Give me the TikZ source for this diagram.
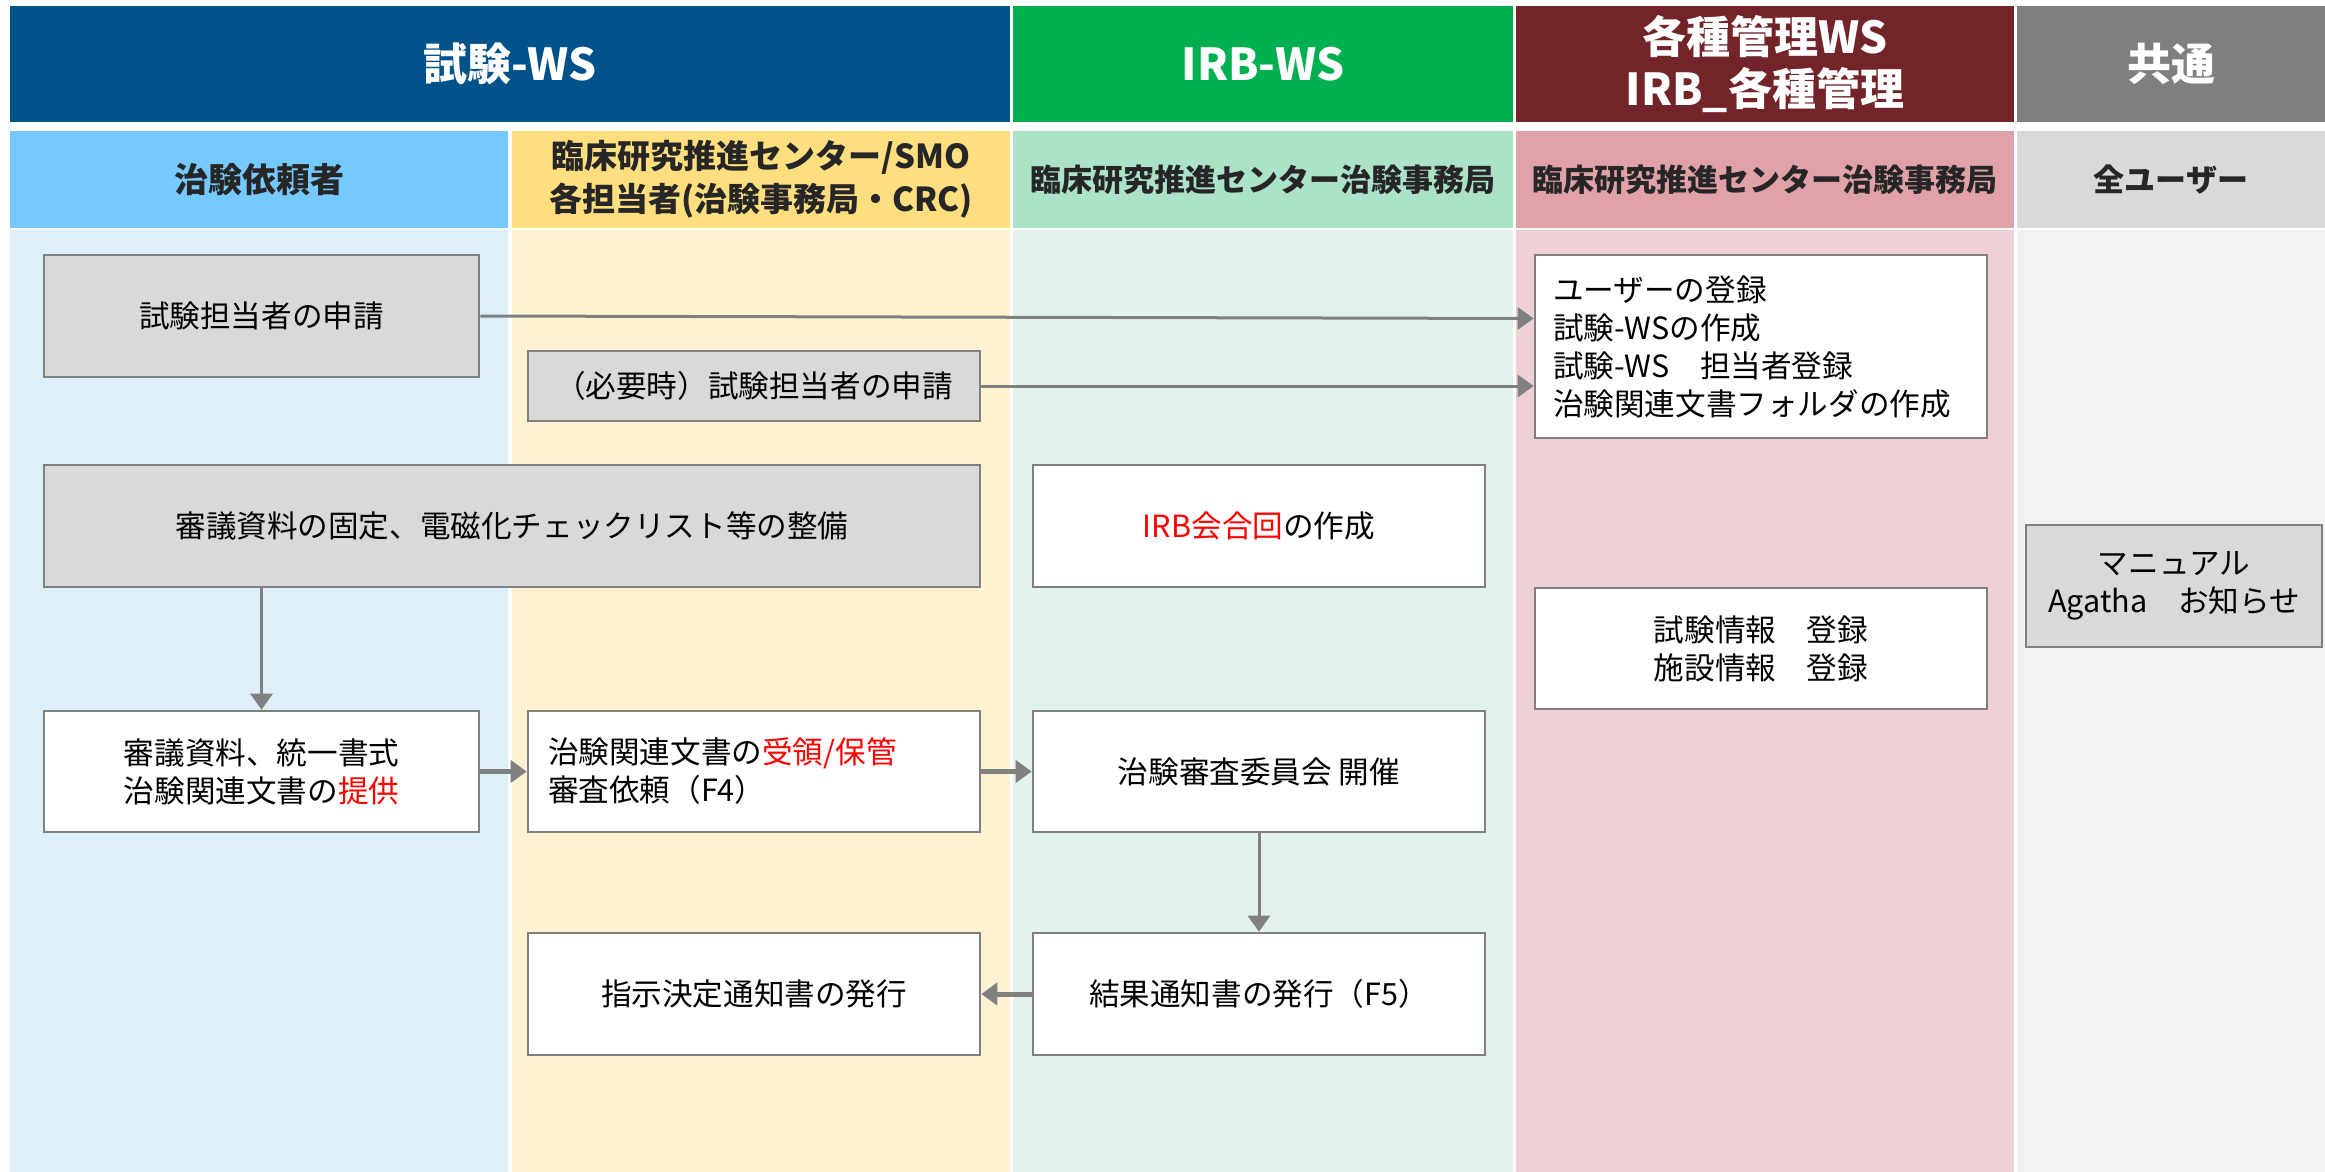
\documentclass[tikz,border=0pt]{standalone}
\usepackage{fontspec}
\setmainfont{Noto Sans CJK JP}
\usetikzlibrary{arrows.meta,calc}
\definecolor{hdA}{HTML}{00538A}
\definecolor{hdB}{HTML}{00B050}
\definecolor{hdC}{HTML}{722429}
\definecolor{hdD}{HTML}{7F7F7F}
\definecolor{sbA}{HTML}{75C9FF}
\definecolor{sbB}{HTML}{FFDE80}
\definecolor{sbC}{HTML}{ABE2C8}
\definecolor{sbD}{HTML}{E0A2A8}
\definecolor{sbE}{HTML}{D9D9D9}
\definecolor{bgA}{HTML}{DDF0FA}
\definecolor{bgB}{HTML}{FFF2D3}
\definecolor{bgC}{HTML}{E2F3EB}
\definecolor{bgD}{HTML}{EFD0D4}
\definecolor{bgE}{HTML}{F2F2F2}
\definecolor{boxgray}{HTML}{D9D9D9}
\definecolor{edge}{HTML}{808080}
\definecolor{txt}{HTML}{262626}
\definecolor{hot}{HTML}{FF0000}
\begin{document}
\begin{tikzpicture}[x=0.5pt,y=-0.5pt,
  hd/.style={inner sep=0pt, minimum height=58pt, text=white, align=center,
    font=\fontsize{22}{26}\selectfont\bfseries},
  sub/.style={inner sep=0pt, minimum height=48.5pt, text=txt, align=center,
    font=\fontsize{15.5}{21.5}\selectfont\bfseries},
  box/.style={draw=edge, line width=1.3pt, fill=white, inner sep=0pt,
    minimum height=61pt, align=center, text=black,
    font=\fontsize{15.3}{19}\selectfont},
  gbox/.style={box, fill=boxgray},
  arr/.style={draw=edge, line width=1.5pt, -{Triangle[length=8pt,width=11pt]}},
  tarr/.style={arr, line width=2.5pt}
]
\useasboundingbox (0,0) rectangle (2325,1172);
\fill[white] (0,0) rectangle (2325,1172);
% body lanes
\fill[bgA] (10,230) rectangle (508,1172);
\fill[bgB] (512,230) rectangle (1010,1172);
\fill[bgC] (1013,230) rectangle (1513,1172);
\fill[bgD] (1516,230) rectangle (2014,1172);
\fill[bgE] (2017,230) rectangle (2325,1172);
% top headers
\node[hd, fill=hdA, minimum width=500pt] (hA) at (510,64) {試験-WS};
\node[hd, fill=hdB, minimum width=250pt] (hB) at (1263,64) {IRB-WS};
\node[hd, fill=hdC, minimum width=249pt] (hC) at (1765,64) {各種管理WS\\IRB\_各種管理};
\node[hd, fill=hdD, minimum width=154pt] (hD) at (2171,64) {共通};
% sub headers
\node[sub, fill=sbA, minimum width=249pt, font=\fontsize{17}{21.5}\selectfont\bfseries] (sA) at (259,179.5) {治験依頼者};
\node[sub, fill=sbB, minimum width=249pt, font=\fontsize{16.5}{21.5}\selectfont\bfseries] (sB) at (761,179.5) {臨床研究推進センター/SMO\\各担当者(治験事務局・CRC)};
\node[sub, fill=sbC, minimum width=250pt] (sC) at (1263,179.5) {臨床研究推進センター治験事務局};
\node[sub, fill=sbD, minimum width=249pt] (sD) at (1765,179.5) {臨床研究推進センター治験事務局};
\node[sub, fill=sbE, minimum width=154pt] (sE) at (2171,179.5) {全ユーザー};
% boxes
\node[gbox, minimum width=217.5pt] (a1) at (261.5,316) {試験担当者の申請};
\node[gbox, minimum width=226pt, minimum height=35pt] (a2) at (754,386) {（必要時）試験担当者の申請};
\node[gbox, minimum width=468pt] (a3) at (512,526) {審議資料の固定、電磁化チェックリスト等の整備};
\node[box, minimum width=226pt] (b1) at (1259,526) {\textcolor{hot}{IRB会合回}の作成};
\node[box, minimum height=91.5pt, inner xsep=9pt, text width=208pt, align=left] (u) at (1761,346.5)
  {ユーザーの登録\\試験-WSの作成\\試験-WS　担当者登録\\治験関連文書フォルダの作成};
\node[box, minimum width=226pt, minimum height=60.5pt] (c2) at (1761,648.5) {試験情報　登録\\施設情報　登録};
\node[gbox, minimum width=148pt] (m) at (2174,586) {マニュアル\\Agatha　お知らせ};
\node[box, minimum width=217.5pt, minimum height=60.5pt] (a4) at (261.5,771.5)
  {審議資料、統一書式\\治験関連文書の\textcolor{hot}{提供}};
\node[box, minimum height=60.5pt, inner xsep=10pt, text width=206pt, align=left] (a5) at (754,771.5)
  {治験関連文書の\textcolor{hot}{受領/保管}\\審査依頼（F4）};
\node[box, minimum width=226pt, minimum height=60.5pt] (b2) at (1259,771.5) {治験審査委員会 開催};
\node[box, minimum width=226pt] (a6) at (754,994) {指示決定通知書の発行};
\node[box, minimum width=226pt] (b3) at (1259,994) {結果通知書の発行（F5）};
% connectors
\draw[arr] (a1.east) -- ($(u.west)+(0,-28)$);
\draw[arr] (a2.east) -- (a2.east -| u.west);
\draw[arr] (a3.south -| a4.north) -- (a4.north);
\draw[tarr] (a4.east) -- (a5.west);
\draw[tarr] (a5.east) -- (b2.west);
\draw[arr] (b2.south) -- (b3.north);
\draw[tarr] (b3.west) -- (a6.east);
\end{tikzpicture}
\end{document}
